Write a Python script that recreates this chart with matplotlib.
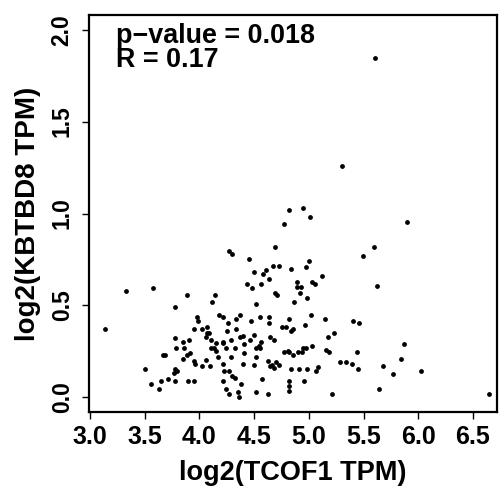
import numpy as np
import matplotlib
matplotlib.use("Agg")
import matplotlib.pyplot as plt

# log2(TCOF1 TPM) vs log2(KBTBD8 TPM)
tcof1 = [5.605, 5.306, 5.900, 5.593, 5.498, 5.621, 4.822, 4.950, 5.008, 4.776,
         4.273, 4.295, 4.694, 4.456, 5.005, 4.676, 4.725, 4.977, 4.496, 4.612,
         4.581, 4.837, 5.123, 4.634, 4.438, 4.484, 4.560, 4.889, 5.029, 5.054,
         4.895, 4.932, 4.920, 4.694, 4.712, 4.981, 3.332, 3.579, 3.889, 4.143,
         4.115, 3.774, 3.140, 3.978, 3.987, 4.179, 4.213, 3.948, 4.027, 4.072,
         4.255, 4.072, 4.088, 4.058, 4.106, 3.780, 3.853, 3.908, 4.216, 4.218,
         4.152, 3.783, 3.862, 4.103, 4.133, 4.149, 4.246, 3.911, 3.887, 3.667,
         3.688, 4.173, 3.853, 3.951, 3.960, 4.063, 4.027, 4.100, 4.213, 3.500,
         3.780, 3.793, 3.768, 4.225, 3.713, 3.652, 3.774, 3.893, 3.951, 4.216,
         3.560, 3.628, 4.246, 4.517, 4.264, 4.335, 4.374, 4.472, 4.335, 4.289,
         4.374, 4.396, 4.460, 4.499, 4.328, 4.410, 4.517, 4.292, 4.405, 4.517,
         4.396, 4.502, 4.268, 4.301, 4.323, 4.378, 4.271, 4.350, 4.365, 4.515,
         4.867, 4.557, 4.639, 4.634, 4.819, 5.017, 5.148, 4.965, 4.755, 4.794,
         4.840, 4.856, 5.401, 5.462, 5.173, 5.233, 4.566, 4.645, 4.682, 4.545,
         4.557, 4.776, 4.810, 4.816, 4.853, 4.901, 4.935, 4.944, 4.972, 5.029,
         5.157, 5.187, 5.443, 4.624, 4.645, 4.664, 4.682, 4.698, 4.725, 4.840,
         4.910, 4.984, 5.063, 5.081, 5.288, 5.343, 5.392, 5.450, 4.570, 4.816,
         4.816, 4.816, 4.956, 4.627, 5.209, 5.868, 5.846, 5.678, 5.770, 6.028,
         5.639, 6.645]
kbtbd8 = [1.846, 1.259, 0.952, 0.818, 0.768, 0.608, 1.017, 1.031, 0.980, 0.944,
          0.797, 0.777, 0.818, 0.751, 0.744, 0.717, 0.717, 0.708, 0.682, 0.691,
          0.671, 0.698, 0.662, 0.644, 0.617, 0.597, 0.617, 0.626, 0.626, 0.617,
          0.599, 0.599, 0.570, 0.570, 0.559, 0.542, 0.578, 0.597, 0.559, 0.559,
          0.518, 0.489, 0.371, 0.439, 0.413, 0.447, 0.436, 0.371, 0.371, 0.382,
          0.358, 0.349, 0.349, 0.326, 0.313, 0.324, 0.302, 0.313, 0.302, 0.293,
          0.293, 0.266, 0.266, 0.266, 0.266, 0.253, 0.266, 0.242, 0.231, 0.231,
          0.231, 0.217, 0.206, 0.195, 0.180, 0.204, 0.168, 0.168, 0.180, 0.155,
          0.155, 0.142, 0.131, 0.142, 0.100, 0.089, 0.089, 0.089, 0.089, 0.089,
          0.073, 0.047, 0.047, 0.510, 0.406, 0.424, 0.447, 0.415, 0.371, 0.313,
          0.326, 0.335, 0.313, 0.337, 0.267, 0.289, 0.267, 0.218, 0.240, 0.218,
          0.180, 0.178, 0.144, 0.118, 0.104, 0.073, 0.019, 0.031, 0.004, 0.031,
          0.520, 0.436, 0.436, 0.404, 0.426, 0.446, 0.426, 0.393, 0.382, 0.382,
          0.362, 0.373, 0.415, 0.404, 0.326, 0.349, 0.302, 0.326, 0.313, 0.278,
          0.266, 0.244, 0.253, 0.244, 0.229, 0.244, 0.244, 0.266, 0.266, 0.278,
          0.255, 0.244, 0.244, 0.195, 0.170, 0.178, 0.157, 0.191, 0.178, 0.153,
          0.153, 0.153, 0.142, 0.166, 0.193, 0.193, 0.180, 0.155, 0.100, 0.088,
          0.061, 0.033, 0.089, 0.019, 0.019, 0.291, 0.206, 0.168, 0.128, 0.142,
          0.047, 0.019]

x_ticks = [3.0, 3.5, 4.0, 4.5, 5.0, 5.5, 6.0, 6.5]
y_ticks = [0.0, 0.5, 1.0, 1.5, 2.0]
p_text = "p\u2212value = 0.018"
r_text = "R = 0.17"

plt.rcParams['font.family'] = ['Liberation Sans', 'DejaVu Sans']
plt.rcParams['font.weight'] = 'bold'

fig = plt.figure(figsize=(5.04, 4.86), dpi=100)
ax = fig.add_axes([89 / 504, 74 / 486, 408 / 504, 397 / 486])

ax.scatter(tcof1, kbtbd8, s=12, color='black', linewidths=0)

ax.set_xlim(2.99, 6.72)
ax.set_ylim(-0.08, 2.08)
ax.set_xticks(x_ticks)
ax.set_xticklabels([f"{t:.1f}" for t in x_ticks])
ax.set_yticks(y_ticks)
ax.set_yticklabels([f"{t:.1f}" for t in y_ticks], rotation=90, va='center')
ax.tick_params(axis='both', length=5, width=1, direction='out')
ax.tick_params(axis='x', labelsize=18, pad=4)
ax.tick_params(axis='y', labelsize=16.5, pad=6)

for sp in ax.spines.values():
    sp.set_linewidth(1.6)

ax.set_xlabel("log2(TCOF1 TPM)", fontsize=19.5, fontweight='bold', labelpad=8)
ax.set_ylabel("log2(KBTBD8 TPM)", fontsize=20, fontweight='bold', labelpad=7)

ax.text(0.065, 0.929, p_text, transform=ax.transAxes, fontsize=19.4,
        fontweight='bold', va='baseline')
ax.text(0.065, 0.870, r_text, transform=ax.transAxes, fontsize=19.4,
        fontweight='bold', va='baseline')

fig.savefig("out.png", dpi=100)
